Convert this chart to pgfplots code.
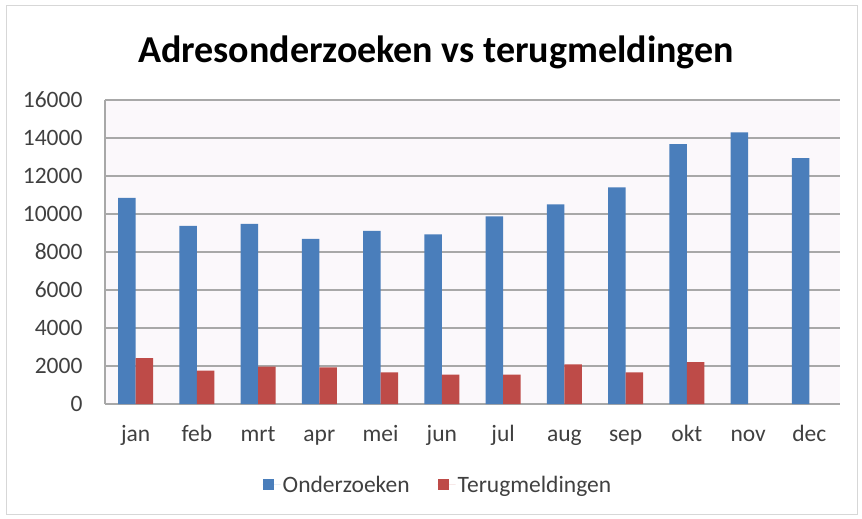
\documentclass[border=0pt]{standalone}
\usepackage{pgfplots}
\pgfplotsset{compat=1.18}
\usepackage{fontspec}
\setmainfont{Carlito}
\definecolor{exblue}{HTML}{4A7EBB}
\definecolor{exred}{HTML}{BE4B48}
\definecolor{gridc}{HTML}{A8A8A8}
\definecolor{txt}{HTML}{404040}
\definecolor{framec}{HTML}{D7D7D7}
\definecolor{plotbg}{HTML}{FBF8FB}
\begin{document}
\begin{tikzpicture}
\path[use as bounding box] (-105pt,-115pt) rectangle (757pt,404pt);
\draw[line width=1pt, framec] (-98pt,398pt) rectangle (752pt,-110pt);
\begin{axis}[
  at={(0pt,0pt)}, anchor=south west,
  scale only axis, width=735pt, height=304pt,
  ybar=0pt, bar width=17.5pt,
  xmin=-0.5, xmax=11.5, ymin=0, ymax=16000,
  xtick={0,...,11},
  xticklabels={jan,feb,mrt,apr,mei,jun,jul,aug,sep,okt,nov,dec},
  ytick={0,2000,...,16000},
  scaled y ticks=false,
  /pgf/number format/1000 sep={},
  /pgf/number format/assume math mode=true,
  axis x line=bottom, axis y line=left,
  axis line style={gridc, line width=1.2pt, -},
  major tick length=0pt,
  ymajorgrids, grid style={gridc, line width=1.2pt},
  axis background/.style={fill=plotbg},
  tick label style={font=\fontsize{23.5}{26}\selectfont, text=txt},
  yticklabel style={xshift=-19pt},
  xticklabel style={text height=0.75em, text depth=0.2em, yshift=-26pt},
  legend style={at={(axis description cs:0.453,-0.266)}, anchor=center,
    draw=none, fill=none, font=\fontsize{23.5}{26}\selectfont, text=txt,
    /tikz/every even column/.append style={column sep=26pt}},
  legend columns=2,
  legend image code/.code={\fill[#1] (0pt,-5.5pt) rectangle (11pt,5.5pt); \path (0pt,0pt) -- (18pt,0pt);},
]
\addplot[fill=exblue, draw=none] coordinates {
(0,10850) (1,9370) (2,9480) (3,8690) (4,9110) (5,8930)
(6,9880) (7,10500) (8,11400) (9,13680) (10,14300) (11,12940)};
\addplot[fill=exred, draw=none] coordinates {
(0,2410) (1,1760) (2,1970) (3,1930) (4,1670) (5,1550)
(6,1550) (7,2090) (8,1670) (9,2200)};
\legend{Onderzoeken,Terugmeldingen}
\end{axis}
\node[font=\bfseries\fontsize{38}{42}\selectfont] at (331pt,352pt) {Adresonderzoeken vs terugmeldingen};
\end{tikzpicture}
\end{document}
